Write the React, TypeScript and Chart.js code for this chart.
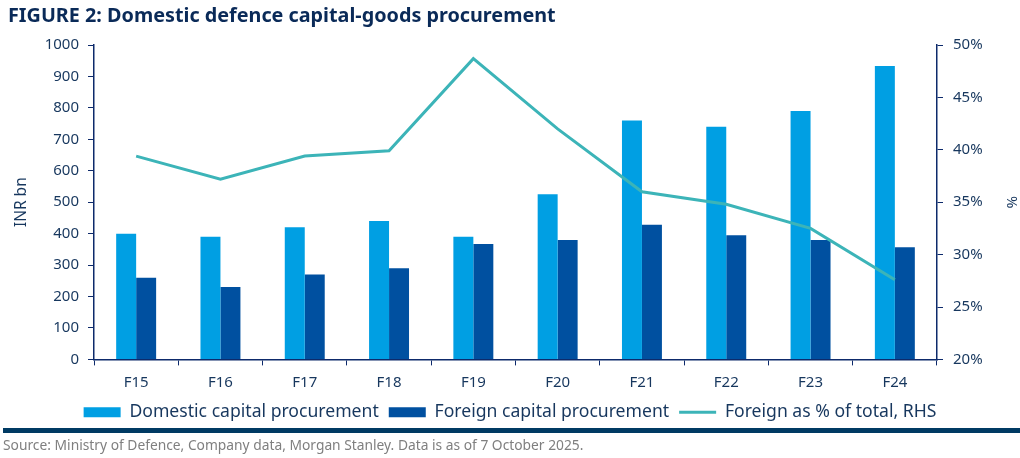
import React, { useEffect, useRef } from "react";
import { Chart, registerables } from "chart.js";

Chart.register(...registerables);

const categories = ["F15", "F16", "F17", "F18", "F19", "F20", "F21", "F22", "F23", "F24"];
const domesticProcurement = [400, 390, 420, 440, 390, 525, 760, 740, 790, 933];
const foreignProcurement = [260, 230, 270, 290, 367, 380, 428, 395, 380, 357];
const foreignSharePct = [39.4, 37.2, 39.4, 39.9, 48.7, 42.0, 36.0, 34.8, 32.5, 27.6];

const TITLE = "FIGURE 2: Domestic defence capital-goods procurement";
const SOURCE = "Source: Ministry of Defence, Company data, Morgan Stanley. Data is as of 7 October 2025.";
const LABEL_DOM = "Domestic capital procurement";
const LABEL_FOR = "Foreign capital procurement";
const LABEL_PCT = "Foreign as % of total, RHS";

const FONT = "'Noto Sans', 'Open Sans', sans-serif";
const TEXT = "#17375e";
const AXIS = "#0d2a6b";

export default function App() {
  const ref = useRef<HTMLCanvasElement | null>(null);

  useEffect(() => {
    if (!ref.current) return;
    const chart = new Chart(ref.current, {
      type: "bar",
      data: {
        labels: categories,
        datasets: [
          {
            type: "bar",
            label: LABEL_DOM,
            data: domesticProcurement,
            backgroundColor: "#009fe3",
            borderWidth: 0,
            yAxisID: "y",
            order: 1,
            pointStyle: "rect",
            categoryPercentage: 0.474,
            barPercentage: 1,
          } as any,
          {
            type: "bar",
            label: LABEL_FOR,
            data: foreignProcurement,
            backgroundColor: "#0050a0",
            borderWidth: 0,
            yAxisID: "y",
            order: 1,
            pointStyle: "rect",
            categoryPercentage: 0.474,
            barPercentage: 1,
          } as any,
          {
            type: "line",
            label: LABEL_PCT,
            data: foreignSharePct,
            borderColor: "#3cb4b8",
            backgroundColor: "#3cb4b8",
            borderWidth: 3,
            pointRadius: 0,
            pointStyle: "line",
            tension: 0,
            yAxisID: "y1",
            order: 0,
          } as any,
        ],
      },
      options: {
        responsive: false,
        animation: false,
        layout: { padding: { top: 45, left: 0, right: 0, bottom: 27 } },
        plugins: {
          tooltip: { enabled: false },
          title: { display: false },
          legend: {
            position: "bottom",
            labels: {
              usePointStyle: true,
              pointStyleWidth: 37,
              boxHeight: 10,
              padding: 10,
              color: TEXT,
              font: { family: FONT, size: 17.6 },
              sort: (a: any, b: any) => a.datasetIndex - b.datasetIndex,
            },
          },
        },
        scales: {
          x: {
            offset: true,
            grid: {
              display: true,
              drawOnChartArea: false,
              drawTicks: true,
              tickLength: 6,
              color: AXIS,
              offset: true,
            },
            border: { display: true, color: AXIS, width: 1.5 },
            ticks: { color: TEXT, font: { family: FONT, size: 15 }, padding: 8, maxRotation: 0 },
            afterFit: (s: any) => {
              s.height = 34;
            },
          },
          y: {
            position: "left",
            min: 0,
            max: 1000,
            ticks: {
              stepSize: 100,
              color: TEXT,
              font: { family: FONT, size: 15 },
              padding: 9,
              callback: (v: any) => String(v),
            },
            grid: { display: true, drawOnChartArea: false, tickLength: 6, color: AXIS },
            border: { display: true, color: AXIS, width: 1.5 },
            title: {
              display: true,
              text: "INR bn",
              color: TEXT,
              font: { family: FONT, size: 15.5 },
              padding: { top: 12, bottom: 0 },
            },
            afterFit: (s: any) => {
              s.width = 94;
            },
          },
          y1: {
            position: "right",
            min: 20,
            max: 50,
            ticks: {
              stepSize: 5,
              color: TEXT,
              font: { family: FONT, size: 15 },
              padding: 10,
              callback: (v: any) => `${v}%`,
            },
            grid: { display: true, drawOnChartArea: false, tickLength: 6, color: AXIS },
            border: { display: true, color: AXIS, width: 1.5 },
            title: {
              display: true,
              text: "%",
              color: TEXT,
              font: { family: FONT, size: 15 },
              padding: { top: 0, bottom: 0 },
            },
            afterFit: (s: any) => {
              s.width = 83;
            },
          },
        },
      } as any,
    });
    return () => chart.destroy();
  }, []);

  return (
    <div
      style={{
        position: "absolute",
        left: 0,
        top: 0,
        width: 1020,
        height: 458,
        background: "#ffffff",
        overflow: "hidden",
        fontFamily: FONT,
      }}
    >
      <canvas ref={ref} width={1020} height={458} style={{ position: "absolute", left: 0, top: 0, width: 1020, height: 458 }} />
      <div
        style={{
          position: "absolute",
          left: 8,
          top: 3,
          fontSize: 19.8,
          lineHeight: "24px",
          fontWeight: 700,
          color: "#0a2a58",
          whiteSpace: "nowrap",
        }}
      >
        {TITLE}
      </div>
      <div style={{ position: "absolute", left: 3, right: 0, top: 428, height: 5, background: "#003a63" }} />
      <div
        style={{
          position: "absolute",
          left: 3,
          top: 436,
          fontSize: 13.8,
          lineHeight: "18px",
          color: "#7f7f7f",
          whiteSpace: "nowrap",
        }}
      >
        {SOURCE}
      </div>
    </div>
  );
}
